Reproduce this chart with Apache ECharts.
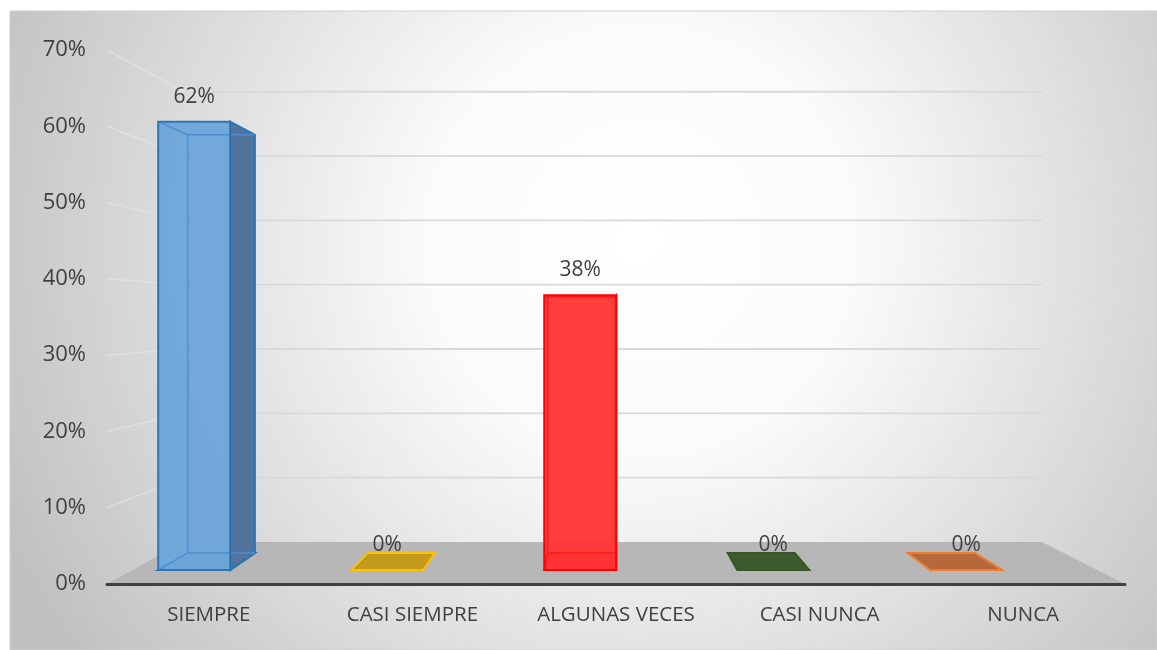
<!DOCTYPE html>
<html>
<head>
<meta charset="utf-8">
<script src="https://cdn.jsdelivr.net/npm/echarts@6/dist/echarts.min.js"></script>
<style>
  html, body { margin: 0; padding: 0; background: #fff; }
  #chart { width: 1157px; height: 650px; }
</style>
</head>
<body>
<div id="chart"></div>
<script>
  const categories = ['SIEMPRE', 'CASI SIEMPRE', 'ALGUNAS VECES', 'CASI NUNCA', 'NUNCA'];
  const values = [62, 0, 38, 0, 0];
  const valueLabels = ['62%', '0%', '38%', '0%', '0%'];
  const ticks = [0, 10, 20, 30, 40, 50, 60, 70];

  // colores de cada barra: cara frontal, borde, lateral
  const barStyles = [
    { fill: 'rgba(108,165,217,0.95)', line: '#2e75b6', inner: '#4a8fd2', side: '#52739b' },
    { fill: '#c49a1d', line: '#ffc000', inner: '#ffc000', side: '#a07d10' },
    { fill: 'rgba(255,51,51,0.95)', line: '#ff0000', inner: '#ff1a1a', side: '#c00000' },
    { fill: '#3b5a2d', line: '#375623', inner: '#375623', side: '#2a401c' },
    { fill: '#b5693b', line: '#ed7d31', inner: '#ed7d31', side: '#9a5020' }
  ];

  // perspectiva (punto de fuga y profundidades)
  const VP = [596, 316];
  const S_FRONT = 0.948;
  const S_BACK = 0.884;
  const S_WALL = 0.843;
  const BAR_W = 0.373;
  const BAR_SHIFT = -0.18;

  function proj(p, s) {
    return [VP[0] + (p[0] - VP[0]) * s, VP[1] + (p[1] - VP[1]) * s];
  }

  const chart = echarts.init(document.getElementById('chart'));

  const option = {
    animation: false,
    graphic: [
      {
        type: 'rect',
        z: -10,
        silent: true,
        shape: { x: 10, y: 11, width: 1147, height: 639 },
        style: {
          fill: new echarts.graphic.RadialGradient(0.55, 0.36, 1.1, [
            { offset: 0, color: '#ffffff' },
            { offset: 0.3, color: '#fbfbfb' },
            { offset: 1, color: '#c0c0c0' }
          ]),
          stroke: '#cfcfcf',
          lineWidth: 1
        }
      }
    ],
    grid: { left: 107, right: 32, top: 50, bottom: 66 },
    xAxis: {
      type: 'category',
      data: categories,
      axisLine: { lineStyle: { color: '#404040', width: 3 } },
      axisTick: { show: false },
      axisLabel: {
        interval: 0,
        color: '#404040',
        fontSize: 20.5,
        fontFamily: 'Open Sans',
        margin: 21
      },
      z: 5
    },
    yAxis: {
      type: 'value',
      min: 0,
      max: 70,
      interval: 10,
      axisLine: { show: false },
      axisTick: { show: false },
      splitLine: { show: false },
      axisLabel: {
        formatter: '{value}%',
        color: '#404040',
        fontSize: 22,
        fontFamily: 'Open Sans',
        margin: 21
      }
    },
    series: [
      {
        // paredes: líneas de división
        type: 'custom',
        z: 1,
        silent: true,
        data: ticks.map((t) => [0, t]),
        renderItem: function (params, api) {
          const cs = params.coordSys;
          const y = api.coord([0, api.value(1)])[1];
          const l = [cs.x, y];
          const r = [cs.x + cs.width, y];
          const lb = proj(l, S_WALL);
          const rb = proj(r, S_WALL);
          const children = [];
          if (api.value(1) > 0) {
            children.push({
              type: 'line',
              shape: { x1: l[0], y1: l[1], x2: lb[0], y2: lb[1] },
              style: { stroke: 'rgba(235,235,235,0.45)', lineWidth: 1.5 }
            });
            children.push({
              type: 'line',
              shape: { x1: lb[0], y1: lb[1], x2: rb[0], y2: rb[1] },
              style: { stroke: '#d9d9d9', lineWidth: 1.8 }
            });
          } else {
            // suelo
            children.push({
              type: 'polygon',
              shape: { points: [l, r, rb, lb] },
              style: { fill: '#b7b7b7' }
            });
          }
          return { type: 'group', children: children };
        }
      },
      {
        type: 'custom',
        z: 3,
        silent: true,
        data: values.map((v, i) => [i, v]),
        renderItem: function (params, api) {
          const i = params.dataIndex;
          const st = barStyles[i];
          const band = api.size([1, 0])[0];
          const base = api.coord([api.value(0), 0]);
          const top = api.coord([api.value(0), api.value(1)]);
          const cx = base[0] + band * BAR_SHIFT;
          const hw = band * BAR_W / 2;
          const face = (s) => [
            proj([cx - hw, top[1]], s),
            proj([cx + hw, top[1]], s),
            proj([cx + hw, base[1]], s),
            proj([cx - hw, base[1]], s)
          ];
          const f = face(S_FRONT);
          const b = face(S_BACK);
          const h = api.value(1) > 0;
          const children = [
            {
              type: 'polygon',
              shape: { points: [f[3], f[2], b[2], b[3]] },
              style: { fill: st.fill, stroke: st.line, lineWidth: 2 }
            }
          ];
          if (h) {
            children.push({
              type: 'polygon',
              shape: { points: [f[1], b[1], b[2], f[2]] },
              style: { fill: st.side, stroke: st.line, lineWidth: 2 }
            });
            children.push({
              type: 'polygon',
              shape: { points: f },
              style: { fill: st.fill }
            });
            // aristas traseras vistas a través de la cara frontal
            children.push({
              type: 'polyline',
              shape: { points: [b[3], b[0], b[1]] },
              style: { fill: null, stroke: st.inner, lineWidth: 1.5 }
            });
            children.push({
              type: 'polyline',
              shape: { points: [f[3], b[3], b[2]] },
              style: { fill: null, stroke: st.inner, lineWidth: 1.5 }
            });
            children.push({
              type: 'line',
              shape: { x1: f[0][0], y1: f[0][1], x2: b[0][0], y2: b[0][1] },
              style: { stroke: st.inner, lineWidth: 1.5 }
            });
            children.push({
              type: 'polygon',
              shape: { points: f },
              style: { fill: null, stroke: st.line, lineWidth: 2 }
            });
          }
          children.push({
            type: 'text',
            style: {
              text: valueLabels[i],
              x: (f[0][0] + f[1][0]) / 2,
              y: f[0][1] - 25,
              align: 'center',
              verticalAlign: 'middle',
              fill: '#404040',
              fontSize: 21,
              fontFamily: 'Open Sans'
            }
          });
          return { type: 'group', children: children };
        }
      }
    ]
  };

  chart.setOption(option);
</script>
</body>
</html>
